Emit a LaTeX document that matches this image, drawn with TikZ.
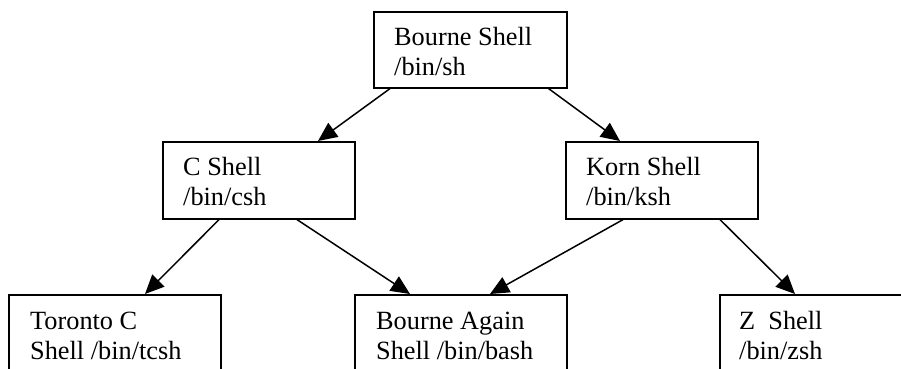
\documentclass[tikz,border=0pt]{standalone}
\usepackage{fontspec}
\setmainfont{Liberation Serif}
\usetikzlibrary{arrows.meta}
\begin{document}
\begin{tikzpicture}[x=1pt,y=-1pt,
  box/.style={draw=black, line width=1.6pt, rectangle, inner sep=0pt, anchor=north west},
  lbl/.style={inner sep=0pt, anchor=base west, align=left, font=\fontsize{26.3}{30}\selectfont},
  conn/.style={line width=1.5pt, -{Triangle[length=19pt,width=17pt]}}]
\useasboundingbox (0,0) rectangle (901,368);
\clip (0,0) rectangle (901,368);
\fill[white] (0,0) rectangle (901,368);
% boxes
\node[box, minimum width=193pt, minimum height=76pt] (bsh) at (373,11) {};
\node[box, minimum width=192pt, minimum height=77pt] (csh) at (162,141) {};
\node[box, minimum width=192pt, minimum height=77pt] (ksh) at (565,141) {};
\node[box, minimum width=212pt, minimum height=110pt] (tcsh) at (8,294) {};
\node[box, minimum width=212pt, minimum height=110pt] (bash) at (354,294) {};
\node[box, minimum width=212pt, minimum height=110pt] (zsh) at (719,294) {};
% labels
\node[lbl] (bsh1) at (394,45) {Bourne Shell};
\node[lbl] (bsh2) at (394,75) {/bin/sh};
\node[lbl] (csh1) at (183,175) {C Shell};
\node[lbl] (csh2) at (183,205) {/bin/csh};
\node[lbl] (ksh1) at (586,175) {Korn Shell};
\node[lbl] (ksh2) at (586,205) {/bin/ksh};
\node[lbl] (tcsh1) at (30,329) {Toronto C};
\node[lbl] (tcsh2) at (30,359) {Shell /bin/tcsh};
\node[lbl] (bash1) at (376,329) {Bourne Again};
\node[lbl] (bash2) at (376,359) {Shell /bin/bash};
\node[lbl] (zsh1) at (739,329) {Z\ \ Shell};
\node[lbl] (zsh2) at (739,359) {/bin/zsh};
% connectors
\draw[conn] ([xshift=17pt]bsh.south west) -- ([xshift=156pt]csh.north west);
\draw[conn] ([xshift=-19pt]bsh.south east) -- ([xshift=55pt]ksh.north west);
\draw[conn] ([xshift=57pt]csh.south west) -- ([xshift=137pt]tcsh.north west);
\draw[conn] ([xshift=135pt]csh.south west) -- ([xshift=56pt]bash.north west);
\draw[conn] ([xshift=58pt]ksh.south west) -- ([xshift=136pt]bash.north west);
\draw[conn] ([xshift=155pt]ksh.south west) -- ([xshift=76pt]zsh.north west);
\end{tikzpicture}
\end{document}
